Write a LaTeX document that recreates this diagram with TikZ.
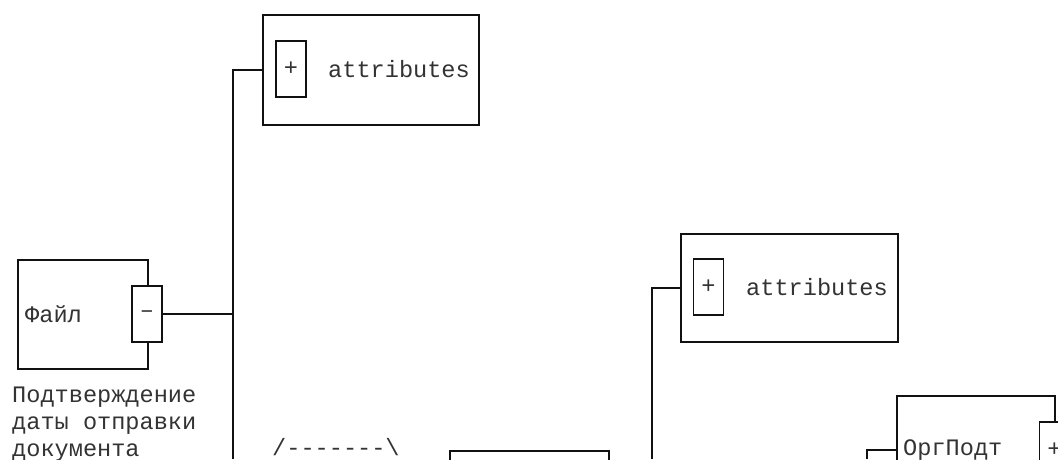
\documentclass[tikz,border=0pt]{standalone}
\usepackage{fontspec}
\newfontfamily\xsdmono{Liberation Mono}
\usetikzlibrary{positioning}
\definecolor{xsdink}{HTML}{111111}
\definecolor{xsdtext}{HTML}{333333}
\tikzset{
  xsd line/.style={draw=xsdink, line width=1.7pt},
  xsd box/.style={rectangle, draw=xsdink, line width=1.7pt, fill=white,
    inner sep=0pt},
  xsd toggle/.style={xsd box, minimum width=30pt, minimum height=56pt,
    font=\xsdmono\fontsize{23.6}{27}\selectfont, text=xsdtext},
  xsd label/.style={font=\xsdmono\fontsize{23.6}{27}\selectfont,
    text=xsdtext, inner sep=0pt, anchor=west},
}

\begin{document}
\begin{tikzpicture}[x=1pt, y=1pt]
  \path[use as bounding box, clip] (0,0) rectangle (1058,459);

  % root element
  \node[xsd box, anchor=north west, minimum width=130pt, minimum height=109pt]
    (file) at (17,200) {};
  \node[xsd label] (file label) at (25,145) {Файл};
  \node[xsd toggle] (file minus) at (147,145) {–};
  \node[xsd label, align=left] (file doc) at (12,35)
    {Подтверждение\\даты отправки\\документа};

  % attributes of the root
  \node[xsd box, anchor=north west, minimum width=216pt, minimum height=110pt]
    (attr a) at (262,445) {};
  \node[xsd toggle] (attr a plus) at (291,390) {+};
  \node[xsd label] (attr a label) at (328,390) {attributes};
  \coordinate (trunk a) at (233,0);
  \draw[xsd line] (attr a.west) -| (trunk a);
  \draw[xsd line] (file minus.east) -- (file minus.east -| trunk a);

  % sequence
  \node[xsd label] (seq) at (272,12) {/-{}-{}-{}-{}-{}-{}-\textbackslash};
  \node[xsd box, anchor=north west, minimum width=159pt, minimum height=80pt]
    (doc) at (449,9) {};

  % attributes of the document
  \node[xsd box, anchor=north west, minimum width=217pt, minimum height=108pt]
    (attr b) at (680,226) {};
  \node[xsd toggle] (attr b plus) at (708.5,172) {+};
  \node[xsd label] (attr b label) at (746,172) {attributes};
  \coordinate (trunk b) at (652,0);
  \draw[xsd line] (attr b.west) -| (trunk b);

  % signer organisation
  \node[xsd box, anchor=north west, minimum width=158pt, minimum height=110pt]
    (org) at (896,64) {};
  \node[xsd label] (org label) at (903,9) {ОргПодт};
  \node[xsd toggle] (org plus) at (1054.5,9) {+};
  \coordinate (trunk c) at (867,0);
  \draw[xsd line] (org.west |- org label.west) -| (trunk c);
\end{tikzpicture}
\end{document}
